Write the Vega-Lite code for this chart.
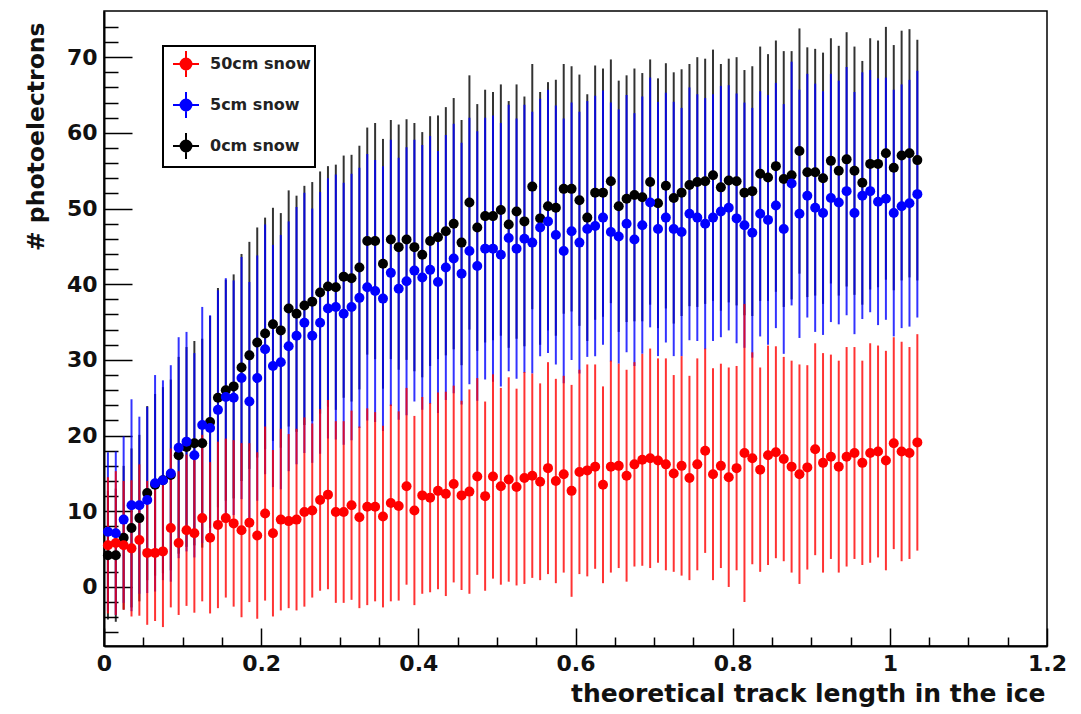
{
"$schema":"https://vega.github.io/schema/vega-lite/v6.json",
"width":943,"height":635,
"autosize":{"type":"none"},
"padding":{"left":104,"top":11,"right":34,"bottom":68},
"background":"white",
"config":{
 "view":{"stroke":"black","strokeWidth":1.5},
 "font":"DejaVu Sans",
 "axis":{"domainColor":"black","domainWidth":2,"tickColor":"black","tickWidth":1.5,"grid":false,"tickCount":200,"labelFont":"DejaVu Sans","labelFontWeight":"bold","labelFontSize":22,"labelColor":"#111","labelOverlap":false,"labelFlush":false,"titleFont":"DejaVu Sans","titleFontWeight":"bold","titleFontSize":24,"titleColor":"#111"}
},
"data":{"values":[
{"s":"0cm snow","x":0.005,"y":4.2,"e":8.5},{"s":"0cm snow","x":0.015,"y":4.2,"e":8.8},{"s":"0cm snow","x":0.025,"y":6.5,"e":9.5},{"s":"0cm snow","x":0.035,"y":7.8,"e":10.5},{"s":"0cm snow","x":0.045,"y":9.1,"e":11},{"s":"0cm snow","x":0.055,"y":12.4,"e":11.5},{"s":"0cm snow","x":0.065,"y":13.5,"e":12},{"s":"0cm snow","x":0.075,"y":14.1,"e":12.3},{"s":"0cm snow","x":0.085,"y":14.8,"e":12.6},{"s":"0cm snow","x":0.095,"y":17.4,"e":13},
{"s":"0cm snow","x":0.105,"y":18.5,"e":13.2},{"s":"0cm snow","x":0.115,"y":19.0,"e":13.5},{"s":"0cm snow","x":0.125,"y":19.0,"e":13.8},{"s":"0cm snow","x":0.135,"y":21.8,"e":14},{"s":"0cm snow","x":0.145,"y":25.0,"e":14.5},{"s":"0cm snow","x":0.155,"y":26.0,"e":14.6},{"s":"0cm snow","x":0.165,"y":26.5,"e":14.8},{"s":"0cm snow","x":0.175,"y":29.0,"e":15},{"s":"0cm snow","x":0.185,"y":30.6,"e":15},{"s":"0cm snow","x":0.195,"y":32.3,"e":15.2},
{"s":"0cm snow","x":0.205,"y":33.5,"e":15.3},{"s":"0cm snow","x":0.215,"y":34.7,"e":15.4},{"s":"0cm snow","x":0.225,"y":33.9,"e":15.5},{"s":"0cm snow","x":0.235,"y":36.8,"e":15.6},{"s":"0cm snow","x":0.245,"y":36.1,"e":15.6},{"s":"0cm snow","x":0.255,"y":37.2,"e":15.8},{"s":"0cm snow","x":0.265,"y":37.7,"e":15.8},{"s":"0cm snow","x":0.275,"y":38.9,"e":16},{"s":"0cm snow","x":0.285,"y":39.7,"e":15.9},{"s":"0cm snow","x":0.295,"y":39.6,"e":16.2},
{"s":"0cm snow","x":0.305,"y":41.0,"e":16},{"s":"0cm snow","x":0.315,"y":40.8,"e":16.3},{"s":"0cm snow","x":0.325,"y":42.2,"e":16.1},{"s":"0cm snow","x":0.335,"y":45.7,"e":15},{"s":"0cm snow","x":0.345,"y":45.7,"e":15.6},{"s":"0cm snow","x":0.355,"y":42.7,"e":16.5},{"s":"0cm snow","x":0.365,"y":45.9,"e":15.8},{"s":"0cm snow","x":0.375,"y":44.9,"e":16.2},{"s":"0cm snow","x":0.385,"y":45.9,"e":15.9},{"s":"0cm snow","x":0.395,"y":44.9,"e":16.4},
{"s":"0cm snow","x":0.405,"y":43.9,"e":16.2},{"s":"0cm snow","x":0.415,"y":45.7,"e":16.5},{"s":"0cm snow","x":0.425,"y":46.2,"e":16.1},{"s":"0cm snow","x":0.435,"y":47.0,"e":16.4},{"s":"0cm snow","x":0.445,"y":48.0,"e":16.6},{"s":"0cm snow","x":0.455,"y":45.5,"e":16.2},{"s":"0cm snow","x":0.465,"y":50.8,"e":16.8},{"s":"0cm snow","x":0.475,"y":47.5,"e":16.3},{"s":"0cm snow","x":0.485,"y":49.0,"e":16.7},{"s":"0cm snow","x":0.495,"y":49.0,"e":16.4},
{"s":"0cm snow","x":0.505,"y":49.8,"e":16.6},{"s":"0cm snow","x":0.515,"y":47.9,"e":16.3},{"s":"0cm snow","x":0.525,"y":49.6,"e":16.8},{"s":"0cm snow","x":0.535,"y":48.3,"e":16.5},{"s":"0cm snow","x":0.545,"y":52.9,"e":16.2},{"s":"0cm snow","x":0.555,"y":48.7,"e":16.7},{"s":"0cm snow","x":0.565,"y":50.3,"e":16.4},{"s":"0cm snow","x":0.575,"y":50.1,"e":16.9},{"s":"0cm snow","x":0.585,"y":52.6,"e":16.5},{"s":"0cm snow","x":0.595,"y":52.6,"e":16.2},
{"s":"0cm snow","x":0.605,"y":51.1,"e":16.6},{"s":"0cm snow","x":0.615,"y":48.8,"e":16.3},{"s":"0cm snow","x":0.625,"y":52.1,"e":16.8},{"s":"0cm snow","x":0.635,"y":52.1,"e":16.4},{"s":"0cm snow","x":0.645,"y":53.6,"e":16.1},{"s":"0cm snow","x":0.655,"y":50.3,"e":16.6},{"s":"0cm snow","x":0.665,"y":51.3,"e":16.3},{"s":"0cm snow","x":0.675,"y":51.8,"e":16.7},{"s":"0cm snow","x":0.685,"y":51.5,"e":16.4},{"s":"0cm snow","x":0.695,"y":53.5,"e":16.2},
{"s":"0cm snow","x":0.705,"y":50.7,"e":16.5},{"s":"0cm snow","x":0.715,"y":53.0,"e":16.2},{"s":"0cm snow","x":0.725,"y":51.4,"e":16.6},{"s":"0cm snow","x":0.735,"y":52.1,"e":16.3},{"s":"0cm snow","x":0.745,"y":53.1,"e":16},{"s":"0cm snow","x":0.755,"y":53.5,"e":16.5},{"s":"0cm snow","x":0.765,"y":53.6,"e":16.2},{"s":"0cm snow","x":0.775,"y":54.4,"e":16.6},{"s":"0cm snow","x":0.785,"y":52.8,"e":16.3},{"s":"0cm snow","x":0.795,"y":53.7,"e":16.1},
{"s":"0cm snow","x":0.805,"y":53.6,"e":16.4},{"s":"0cm snow","x":0.815,"y":52.1,"e":16.2},{"s":"0cm snow","x":0.825,"y":52.3,"e":16.5},{"s":"0cm snow","x":0.835,"y":54.6,"e":16.8},{"s":"0cm snow","x":0.845,"y":54.1,"e":16.3},{"s":"0cm snow","x":0.855,"y":55.6,"e":16.6},{"s":"0cm snow","x":0.865,"y":53.9,"e":16.9},{"s":"0cm snow","x":0.875,"y":54.4,"e":16.4},{"s":"0cm snow","x":0.885,"y":57.6,"e":16.2},{"s":"0cm snow","x":0.895,"y":54.8,"e":16.5},
{"s":"0cm snow","x":0.905,"y":54.8,"e":16.3},{"s":"0cm snow","x":0.915,"y":54.0,"e":16.6},{"s":"0cm snow","x":0.925,"y":56.3,"e":16.2},{"s":"0cm snow","x":0.935,"y":55.0,"e":16.5},{"s":"0cm snow","x":0.945,"y":56.5,"e":16.8},{"s":"0cm snow","x":0.955,"y":55.0,"e":16.4},{"s":"0cm snow","x":0.965,"y":53.4,"e":16.1},{"s":"0cm snow","x":0.975,"y":55.9,"e":16.6},{"s":"0cm snow","x":0.985,"y":55.9,"e":16.3},{"s":"0cm snow","x":0.995,"y":57.3,"e":16.7},
{"s":"0cm snow","x":1.005,"y":55.4,"e":16.2},{"s":"0cm snow","x":1.015,"y":57.0,"e":16.5},{"s":"0cm snow","x":1.025,"y":57.3,"e":16.4},{"s":"0cm snow","x":1.035,"y":56.4,"e":15.9},
{"s":"5cm snow","x":0.005,"y":7.3,"e":10.5},{"s":"5cm snow","x":0.015,"y":7.1,"e":10.8},{"s":"5cm snow","x":0.025,"y":8.9,"e":11},{"s":"5cm snow","x":0.035,"y":10.8,"e":14},{"s":"5cm snow","x":0.045,"y":10.8,"e":11.7},{"s":"5cm snow","x":0.055,"y":11.5,"e":12.3},{"s":"5cm snow","x":0.065,"y":13.7,"e":14.3},{"s":"5cm snow","x":0.075,"y":14.1,"e":13.2},{"s":"5cm snow","x":0.085,"y":15.0,"e":14.3},{"s":"5cm snow","x":0.095,"y":18.4,"e":14.6},
{"s":"5cm snow","x":0.105,"y":19.2,"e":14.5},{"s":"5cm snow","x":0.115,"y":17.4,"e":13.5},{"s":"5cm snow","x":0.125,"y":21.4,"e":15.6},{"s":"5cm snow","x":0.135,"y":21.0,"e":14.9},{"s":"5cm snow","x":0.145,"y":23.4,"e":15.8},{"s":"5cm snow","x":0.155,"y":25.1,"e":15.7},{"s":"5cm snow","x":0.165,"y":25.0,"e":15.5},{"s":"5cm snow","x":0.175,"y":27.6,"e":16},{"s":"5cm snow","x":0.185,"y":24.5,"e":15.8},{"s":"5cm snow","x":0.195,"y":27.6,"e":16.2},
{"s":"5cm snow","x":0.205,"y":31.4,"e":16.5},{"s":"5cm snow","x":0.215,"y":29.2,"e":16},{"s":"5cm snow","x":0.225,"y":29.7,"e":16.8},{"s":"5cm snow","x":0.235,"y":31.8,"e":16.5},{"s":"5cm snow","x":0.245,"y":33.2,"e":17},{"s":"5cm snow","x":0.255,"y":34.9,"e":17.2},{"s":"5cm snow","x":0.265,"y":33.2,"e":16.8},{"s":"5cm snow","x":0.275,"y":34.9,"e":17.3},{"s":"5cm snow","x":0.285,"y":36.8,"e":17.2},{"s":"5cm snow","x":0.295,"y":37.0,"e":17.5},
{"s":"5cm snow","x":0.305,"y":36.1,"e":17.3},{"s":"5cm snow","x":0.315,"y":37.0,"e":17.6},{"s":"5cm snow","x":0.325,"y":38.2,"e":17.2},{"s":"5cm snow","x":0.335,"y":39.6,"e":17.6},{"s":"5cm snow","x":0.345,"y":39.1,"e":17.3},{"s":"5cm snow","x":0.355,"y":38.1,"e":17.5},{"s":"5cm snow","x":0.365,"y":41.5,"e":17.6},{"s":"5cm snow","x":0.375,"y":39.4,"e":17.3},{"s":"5cm snow","x":0.385,"y":40.4,"e":17.7},{"s":"5cm snow","x":0.395,"y":41.8,"e":17.3},
{"s":"5cm snow","x":0.405,"y":40.9,"e":17.5},{"s":"5cm snow","x":0.415,"y":41.9,"e":17.7},{"s":"5cm snow","x":0.425,"y":40.3,"e":17.3},{"s":"5cm snow","x":0.435,"y":42.2,"e":17.5},{"s":"5cm snow","x":0.445,"y":43.4,"e":17.8},{"s":"5cm snow","x":0.455,"y":41.4,"e":17.3},{"s":"5cm snow","x":0.465,"y":44.4,"e":17.6},{"s":"5cm snow","x":0.475,"y":42.4,"e":17.8},{"s":"5cm snow","x":0.485,"y":44.7,"e":17.3},{"s":"5cm snow","x":0.495,"y":44.7,"e":17.6},
{"s":"5cm snow","x":0.505,"y":43.9,"e":17.4},{"s":"5cm snow","x":0.515,"y":46.1,"e":17.6},{"s":"5cm snow","x":0.525,"y":44.7,"e":17.2},{"s":"5cm snow","x":0.535,"y":46.0,"e":17.7},{"s":"5cm snow","x":0.545,"y":45.5,"e":17.3},{"s":"5cm snow","x":0.555,"y":47.5,"e":17},{"s":"5cm snow","x":0.565,"y":48.3,"e":17.4},{"s":"5cm snow","x":0.575,"y":46.5,"e":17.1},{"s":"5cm snow","x":0.585,"y":44.4,"e":17.5},{"s":"5cm snow","x":0.595,"y":47.0,"e":17},
{"s":"5cm snow","x":0.605,"y":45.5,"e":17.3},{"s":"5cm snow","x":0.615,"y":47.3,"e":16.9},{"s":"5cm snow","x":0.625,"y":47.7,"e":17.2},{"s":"5cm snow","x":0.635,"y":48.8,"e":16.8},{"s":"5cm snow","x":0.645,"y":46.9,"e":17.1},{"s":"5cm snow","x":0.655,"y":46.3,"e":16.8},{"s":"5cm snow","x":0.665,"y":48.0,"e":17},{"s":"5cm snow","x":0.675,"y":45.9,"e":16.7},{"s":"5cm snow","x":0.685,"y":47.8,"e":17},{"s":"5cm snow","x":0.695,"y":50.8,"e":16.5},
{"s":"5cm snow","x":0.705,"y":47.3,"e":16.8},{"s":"5cm snow","x":0.715,"y":48.8,"e":16.5},{"s":"5cm snow","x":0.725,"y":47.3,"e":16.8},{"s":"5cm snow","x":0.735,"y":46.9,"e":16.4},{"s":"5cm snow","x":0.745,"y":49.3,"e":16.7},{"s":"5cm snow","x":0.755,"y":48.8,"e":16.3},{"s":"5cm snow","x":0.765,"y":48.0,"e":16.6},{"s":"5cm snow","x":0.775,"y":48.8,"e":16.3},{"s":"5cm snow","x":0.785,"y":49.6,"e":16.6},{"s":"5cm snow","x":0.795,"y":50.1,"e":16.2},
{"s":"5cm snow","x":0.805,"y":48.7,"e":16.5},{"s":"5cm snow","x":0.815,"y":47.8,"e":16.2},{"s":"5cm snow","x":0.825,"y":46.8,"e":16.5},{"s":"5cm snow","x":0.835,"y":49.3,"e":16.2},{"s":"5cm snow","x":0.845,"y":48.5,"e":16.5},{"s":"5cm snow","x":0.855,"y":50.4,"e":16.2},{"s":"5cm snow","x":0.865,"y":47.3,"e":16.5},{"s":"5cm snow","x":0.875,"y":53.3,"e":16.1},{"s":"5cm snow","x":0.885,"y":49.3,"e":16.4},{"s":"5cm snow","x":0.895,"y":51.7,"e":16.1},
{"s":"5cm snow","x":0.905,"y":50.1,"e":16.4},{"s":"5cm snow","x":0.915,"y":49.4,"e":16.1},{"s":"5cm snow","x":0.925,"y":51.4,"e":16.4},{"s":"5cm snow","x":0.935,"y":50.8,"e":16.1},{"s":"5cm snow","x":0.945,"y":52.3,"e":16.4},{"s":"5cm snow","x":0.955,"y":49.4,"e":16},{"s":"5cm snow","x":0.965,"y":51.7,"e":16.3},{"s":"5cm snow","x":0.975,"y":52.3,"e":16},{"s":"5cm snow","x":0.985,"y":50.9,"e":16.3},{"s":"5cm snow","x":0.995,"y":51.3,"e":16},
{"s":"5cm snow","x":1.005,"y":49.4,"e":16.3},{"s":"5cm snow","x":1.015,"y":50.3,"e":16.1},{"s":"5cm snow","x":1.025,"y":50.7,"e":16.3},{"s":"5cm snow","x":1.035,"y":51.9,"e":16.3},
{"s":"50cm snow","x":0.005,"y":5.5,"e":9},{"s":"50cm snow","x":0.015,"y":5.8,"e":9.5},{"s":"50cm snow","x":0.025,"y":5.5,"e":8.5},{"s":"50cm snow","x":0.035,"y":5.1,"e":9},{"s":"50cm snow","x":0.045,"y":6.2,"e":10},{"s":"50cm snow","x":0.055,"y":4.5,"e":9.5},{"s":"50cm snow","x":0.065,"y":4.5,"e":9},{"s":"50cm snow","x":0.075,"y":4.7,"e":10},{"s":"50cm snow","x":0.085,"y":7.8,"e":10.5},{"s":"50cm snow","x":0.095,"y":5.8,"e":9.5},
{"s":"50cm snow","x":0.105,"y":7.5,"e":10},{"s":"50cm snow","x":0.115,"y":7.1,"e":10.5},{"s":"50cm snow","x":0.125,"y":9.1,"e":11},{"s":"50cm snow","x":0.135,"y":6.5,"e":10},{"s":"50cm snow","x":0.145,"y":8.2,"e":11},{"s":"50cm snow","x":0.155,"y":9.1,"e":10.5},{"s":"50cm snow","x":0.165,"y":8.4,"e":11},{"s":"50cm snow","x":0.175,"y":7.5,"e":11.5},{"s":"50cm snow","x":0.185,"y":8.5,"e":10.5},{"s":"50cm snow","x":0.195,"y":6.8,"e":11},
{"s":"50cm snow","x":0.205,"y":9.7,"e":11.5},{"s":"50cm snow","x":0.215,"y":7.1,"e":11},{"s":"50cm snow","x":0.225,"y":8.9,"e":12},{"s":"50cm snow","x":0.235,"y":8.7,"e":11.5},{"s":"50cm snow","x":0.245,"y":8.9,"e":12},{"s":"50cm snow","x":0.255,"y":9.9,"e":12.5},{"s":"50cm snow","x":0.265,"y":10.1,"e":11.5},{"s":"50cm snow","x":0.275,"y":11.5,"e":12},{"s":"50cm snow","x":0.285,"y":12.2,"e":12.5},{"s":"50cm snow","x":0.295,"y":9.9,"e":12},
{"s":"50cm snow","x":0.305,"y":9.9,"e":12},{"s":"50cm snow","x":0.315,"y":10.8,"e":12.5},{"s":"50cm snow","x":0.325,"y":9.2,"e":12},{"s":"50cm snow","x":0.335,"y":10.6,"e":13},{"s":"50cm snow","x":0.345,"y":10.6,"e":12.5},{"s":"50cm snow","x":0.355,"y":9.3,"e":12},{"s":"50cm snow","x":0.365,"y":11.1,"e":13},{"s":"50cm snow","x":0.375,"y":10.7,"e":12.5},{"s":"50cm snow","x":0.385,"y":13.3,"e":13},{"s":"50cm snow","x":0.395,"y":10.1,"e":12.5},
{"s":"50cm snow","x":0.405,"y":12.1,"e":13},{"s":"50cm snow","x":0.415,"y":11.8,"e":12.5},{"s":"50cm snow","x":0.425,"y":12.7,"e":13},{"s":"50cm snow","x":0.435,"y":12.3,"e":13.5},{"s":"50cm snow","x":0.445,"y":13.6,"e":13},{"s":"50cm snow","x":0.455,"y":12.1,"e":12.5},{"s":"50cm snow","x":0.465,"y":12.6,"e":13.5},{"s":"50cm snow","x":0.475,"y":14.6,"e":13},{"s":"50cm snow","x":0.485,"y":12.0,"e":12.5},{"s":"50cm snow","x":0.495,"y":14.6,"e":13.5},
{"s":"50cm snow","x":0.505,"y":13.3,"e":13},{"s":"50cm snow","x":0.515,"y":14.2,"e":13.5},{"s":"50cm snow","x":0.525,"y":13.2,"e":13},{"s":"50cm snow","x":0.535,"y":14.4,"e":14},{"s":"50cm snow","x":0.545,"y":14.7,"e":13.5},{"s":"50cm snow","x":0.555,"y":13.9,"e":13},{"s":"50cm snow","x":0.565,"y":15.7,"e":14},{"s":"50cm snow","x":0.575,"y":14.0,"e":13.5},{"s":"50cm snow","x":0.585,"y":14.9,"e":13},{"s":"50cm snow","x":0.595,"y":12.7,"e":14},
{"s":"50cm snow","x":0.605,"y":15.2,"e":13.5},{"s":"50cm snow","x":0.615,"y":15.4,"e":14},{"s":"50cm snow","x":0.625,"y":15.9,"e":13.5},{"s":"50cm snow","x":0.635,"y":13.5,"e":13},{"s":"50cm snow","x":0.645,"y":15.9,"e":14},{"s":"50cm snow","x":0.655,"y":16.0,"e":13.5},{"s":"50cm snow","x":0.665,"y":14.7,"e":14},{"s":"50cm snow","x":0.675,"y":16.2,"e":13.5},{"s":"50cm snow","x":0.685,"y":16.8,"e":14},{"s":"50cm snow","x":0.695,"y":17.0,"e":14.5},
{"s":"50cm snow","x":0.705,"y":16.7,"e":13.5},{"s":"50cm snow","x":0.715,"y":16.2,"e":14},{"s":"50cm snow","x":0.725,"y":15.0,"e":13},{"s":"50cm snow","x":0.735,"y":16.0,"e":14.5},{"s":"50cm snow","x":0.745,"y":14.4,"e":13.5},{"s":"50cm snow","x":0.755,"y":16.2,"e":14},{"s":"50cm snow","x":0.765,"y":18.0,"e":13.5},{"s":"50cm snow","x":0.775,"y":14.9,"e":14},{"s":"50cm snow","x":0.785,"y":16.0,"e":13.5},{"s":"50cm snow","x":0.795,"y":14.5,"e":14.5},
{"s":"50cm snow","x":0.805,"y":15.7,"e":13.5},{"s":"50cm snow","x":0.815,"y":17.7,"e":19.7},{"s":"50cm snow","x":0.825,"y":17.0,"e":14},{"s":"50cm snow","x":0.835,"y":15.5,"e":13.5},{"s":"50cm snow","x":0.845,"y":17.4,"e":14.5},{"s":"50cm snow","x":0.855,"y":17.8,"e":14},{"s":"50cm snow","x":0.865,"y":16.9,"e":13.5},{"s":"50cm snow","x":0.875,"y":15.9,"e":14},{"s":"50cm snow","x":0.885,"y":14.9,"e":14.5},{"s":"50cm snow","x":0.895,"y":15.8,"e":13.5},
{"s":"50cm snow","x":0.905,"y":18.2,"e":14},{"s":"50cm snow","x":0.915,"y":16.4,"e":14.5},{"s":"50cm snow","x":0.925,"y":17.2,"e":13.5},{"s":"50cm snow","x":0.935,"y":15.9,"e":14},{"s":"50cm snow","x":0.945,"y":17.2,"e":14.5},{"s":"50cm snow","x":0.955,"y":17.7,"e":14},{"s":"50cm snow","x":0.965,"y":16.4,"e":13.5},{"s":"50cm snow","x":0.975,"y":17.7,"e":14.5},{"s":"50cm snow","x":0.985,"y":17.9,"e":14},{"s":"50cm snow","x":0.995,"y":16.7,"e":14.5},
{"s":"50cm snow","x":1.005,"y":19.0,"e":14},{"s":"50cm snow","x":1.015,"y":17.9,"e":14.5},{"s":"50cm snow","x":1.025,"y":17.7,"e":14},{"s":"50cm snow","x":1.035,"y":19.1,"e":14.3}
]},
"encoding":{
 "x":{"field":"x","type":"quantitative","scale":{"domain":[0,1.2],"nice":false,"zero":false},
  "axis":{"title":"theoretical track length in the ice","values":[0,0.05,0.1,0.15,0.2,0.25,0.3,0.35,0.4,0.45,0.5,0.55,0.6,0.65,0.7,0.75,0.8,0.85,0.9,0.95,1,1.05,1.1,1.15,1.2],
   "labelExpr":"abs(datum.value*5-round(datum.value*5))<0.001 ? format(datum.value,'~g') : ''",
   "tickSize":{"condition":{"test":"abs(datum.value*5-round(datum.value*5))<0.001","value":-18},"value":-9},
   "labelPadding":25,"titleFontSize":25,"titleAnchor":"end","titleAlign":"right","titleX":941,"titleY":55,"titleBaseline":"alphabetic"}},
 "color":{"field":"s","type":"nominal","scale":{"domain":["50cm snow","5cm snow","0cm snow"],"range":["#ff0000","#0000ff","#000000"]},
  "legend":{"orient":"none","legendX":59,"legendY":35,"title":null,"fillColor":"white","strokeColor":"black","padding":4,
   "labelFont":"DejaVu Sans","labelFontWeight":"bold","labelFontSize":16,"labelColor":"#222","labelOffset":10,"symbolOffset":5,
   "symbolType":"M-1,0H1M0,-1V1M0.42,0A0.42,0.42 0 1,1 -0.42,0A0.42,0.42 0 1,1 0.42,0Z",
   "symbolSize":676,"symbolStrokeWidth":2,"symbolOpacity":1,"rowPadding":7,
   "encode":{"symbols":{"update":{"fill":{"scale":"color","field":"value"},"stroke":{"scale":"color","field":"value"}}},"legend":{"update":{"strokeWidth":{"value":2},"width":{"value":178}}}}}}
},
"layer":[
 {"mark":{"type":"errorbar","rule":{"strokeWidth":2,"opacity":0.8}},
  "encoding":{"y":{"field":"y","type":"quantitative","scale":{"domain":[-7.8,76.1],"nice":false,"zero":false},
    "axis":{"title":"# photoelectrons","values":[-6,-4,-2,0,2,4,6,8,10,12,14,16,18,20,22,24,26,28,30,32,34,36,38,40,42,44,46,48,50,52,54,56,58,60,62,64,66,68,70,72,74],
     "labelExpr":"datum.value % 10 === 0 ? format(datum.value,'d') : ''",
     "tickSize":{"condition":{"test":"datum.value % 10 === 0","value":-28},"value":-14},
     "labelPadding":35,"titleFontSize":23.5,"titleAnchor":"end","titleAlign":"right","titleX":-68,"titleY":11,"titleBaseline":"middle","titleAngle":-90}},
   "yError":{"field":"e"}}},
 {"mark":{"type":"point","filled":true,"size":100,"opacity":1,"shape":"circle"},
  "encoding":{"y":{"field":"y","type":"quantitative"}}}
]
}
